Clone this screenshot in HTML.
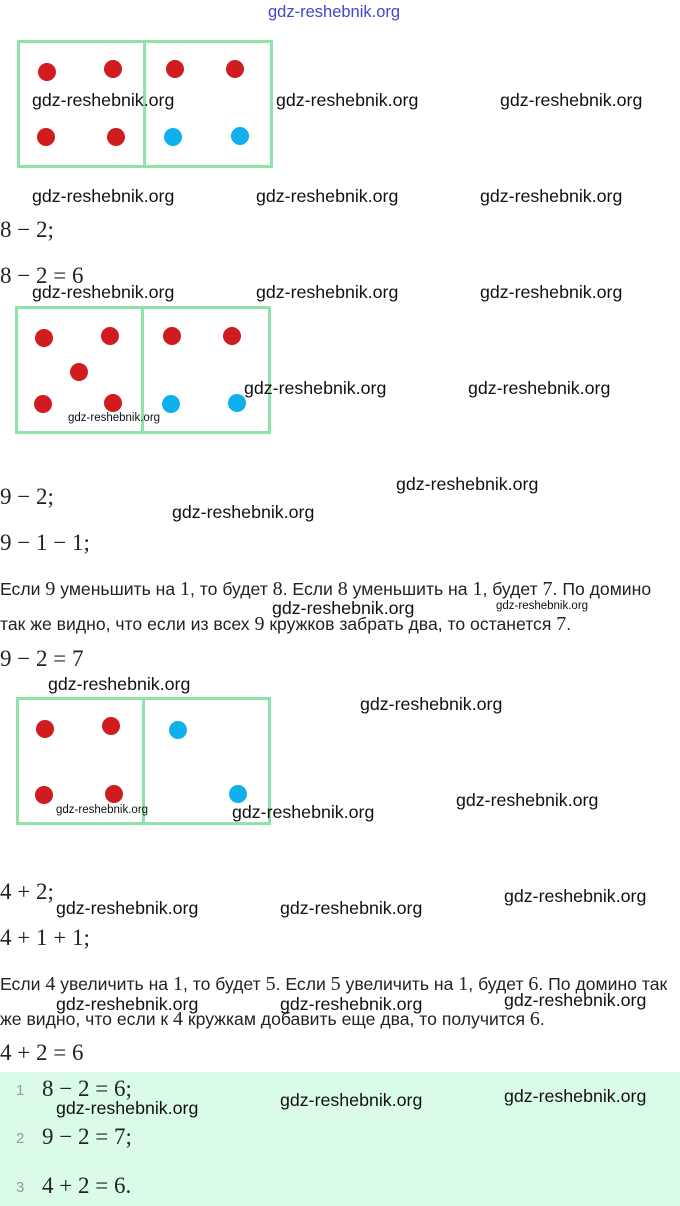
<!DOCTYPE html>
<html><head><meta charset="utf-8"><style>
body{margin:0;width:680px;height:1206px;position:relative;background:#fff;overflow:hidden;font-family:"Liberation Sans",sans-serif}
.w{position:absolute;font-size:17.8px;color:#111;line-height:20px;white-space:nowrap}
.s{font-size:11.5px;line-height:12px}
.m{position:absolute;font-family:"Liberation Serif",serif;font-size:23px;color:#222;line-height:24px;white-space:nowrap}
.t{position:absolute;left:0;font-size:17.6px;color:#222;line-height:20px;white-space:nowrap}
.t i{font-style:normal;font-family:"Liberation Serif",serif;font-size:20px}
.box{position:absolute;border:3px solid #8fe3a8;box-sizing:border-box}
.dv{position:absolute;width:3px;background:#8fe3a8}
.d{position:absolute;width:18px;height:18px;border-radius:50%;background:#d01c1f}
.b{background:#10b0ee}
.g{position:absolute;left:0;top:1072px;width:680px;height:134px;background:#dafce6}
.n{position:absolute;left:16px;font-size:15px;color:#999}
</style></head><body>
<div class="w" style="left:268px;top:2px;color:#4444cc;font-size:16.5px">gdz-reshebnik.org</div>

<div class="box" style="left:17px;top:40px;width:256px;height:128px"></div><div class="dv" style="left:143px;top:40px;height:128px"></div>
<div class="d" style="left:38px;top:63px"></div><div class="d" style="left:104px;top:60px"></div><div class="d" style="left:166px;top:60px"></div><div class="d" style="left:226px;top:60px"></div>
<div class="d" style="left:37px;top:128px"></div><div class="d" style="left:107px;top:128px"></div><div class="d b" style="left:164px;top:128px"></div><div class="d b" style="left:231px;top:127px"></div>

<div class="m" style="left:0;top:218px">8 − 2;</div>
<div class="m" style="left:0;top:264px">8 − 2 = 6</div>

<div class="box" style="left:15px;top:306px;width:256px;height:128px"></div><div class="dv" style="left:141px;top:306px;height:128px"></div>
<div class="d" style="left:35px;top:329px"></div><div class="d" style="left:101px;top:327px"></div><div class="d" style="left:70px;top:363px"></div><div class="d" style="left:34px;top:395px"></div><div class="d" style="left:104px;top:394px"></div>
<div class="d" style="left:163px;top:327px"></div><div class="d" style="left:223px;top:327px"></div><div class="d b" style="left:162px;top:395px"></div><div class="d b" style="left:228px;top:394px"></div>

<div class="m" style="left:0;top:485px">9 − 2;</div>
<div class="m" style="left:0;top:531px">9 − 1 − 1;</div>
<div class="t" style="top:579px">Если <i>9</i> уменьшить на <i>1</i>, то будет <i>8</i>. Если <i>8</i> уменьшить на <i>1</i>, будет <i>7</i>. По домино</div>
<div class="t" style="top:614px">так же видно, что если из всех <i>9</i> кружков забрать два, то останется <i>7</i>.</div>
<div class="m" style="left:0;top:647px">9 − 2 = 7</div>

<div class="box" style="left:16px;top:697px;width:255px;height:128px"></div><div class="dv" style="left:142px;top:697px;height:128px"></div>
<div class="d" style="left:36px;top:720px"></div><div class="d" style="left:102px;top:717px"></div><div class="d" style="left:35px;top:786px"></div><div class="d" style="left:105px;top:785px"></div>
<div class="d b" style="left:169px;top:721px"></div><div class="d b" style="left:229px;top:785px"></div>

<div class="m" style="left:0;top:880px">4 + 2;</div>
<div class="m" style="left:0;top:926px">4 + 1 + 1;</div>
<div class="t" style="top:974px">Если <i>4</i> увеличить на <i>1</i>, то будет <i>5</i>. Если <i>5</i> увеличить на <i>1</i>, будет <i>6</i>. По домино так</div>
<div class="t" style="top:1009px">же видно, что если к <i>4</i> кружкам добавить еще два, то получится <i>6</i>.</div>
<div class="m" style="left:0;top:1041px">4 + 2 = 6</div>

<div class="g"></div>
<div class="n" style="top:1082px">1</div><div class="m" style="left:42px;top:1077px">8 − 2 = 6;</div>
<div class="n" style="top:1130px">2</div><div class="m" style="left:42px;top:1125px">9 − 2 = 7;</div>
<div class="n" style="top:1179px">3</div><div class="m" style="left:42px;top:1174px">4 + 2 = 6.</div>

<div class="w" style="left:32px;top:90px">gdz-reshebnik.org</div><div class="w" style="left:276px;top:90px">gdz-reshebnik.org</div><div class="w" style="left:500px;top:90px">gdz-reshebnik.org</div>
<div class="w" style="left:32px;top:186px">gdz-reshebnik.org</div><div class="w" style="left:256px;top:186px">gdz-reshebnik.org</div><div class="w" style="left:480px;top:186px">gdz-reshebnik.org</div>
<div class="w" style="left:32px;top:282px">gdz-reshebnik.org</div><div class="w" style="left:256px;top:282px">gdz-reshebnik.org</div><div class="w" style="left:480px;top:282px">gdz-reshebnik.org</div>
<div class="w" style="left:244px;top:378px">gdz-reshebnik.org</div><div class="w" style="left:468px;top:378px">gdz-reshebnik.org</div>
<div class="w s" style="left:68px;top:412px">gdz-reshebnik.org</div>
<div class="w" style="left:396px;top:474px">gdz-reshebnik.org</div><div class="w" style="left:172px;top:502px">gdz-reshebnik.org</div>
<div class="w" style="left:272px;top:598px">gdz-reshebnik.org</div><div class="w s" style="left:496px;top:600px">gdz-reshebnik.org</div>
<div class="w" style="left:48px;top:674px">gdz-reshebnik.org</div><div class="w" style="left:360px;top:694px">gdz-reshebnik.org</div>
<div class="w s" style="left:56px;top:804px">gdz-reshebnik.org</div><div class="w" style="left:232px;top:802px">gdz-reshebnik.org</div><div class="w" style="left:456px;top:790px">gdz-reshebnik.org</div>
<div class="w" style="left:504px;top:886px">gdz-reshebnik.org</div><div class="w" style="left:56px;top:898px">gdz-reshebnik.org</div><div class="w" style="left:280px;top:898px">gdz-reshebnik.org</div>
<div class="w" style="left:56px;top:994px">gdz-reshebnik.org</div><div class="w" style="left:280px;top:994px">gdz-reshebnik.org</div><div class="w" style="left:504px;top:990px">gdz-reshebnik.org</div>
<div class="w" style="left:56px;top:1098px">gdz-reshebnik.org</div><div class="w" style="left:280px;top:1090px">gdz-reshebnik.org</div><div class="w" style="left:504px;top:1086px">gdz-reshebnik.org</div>
</body></html>
